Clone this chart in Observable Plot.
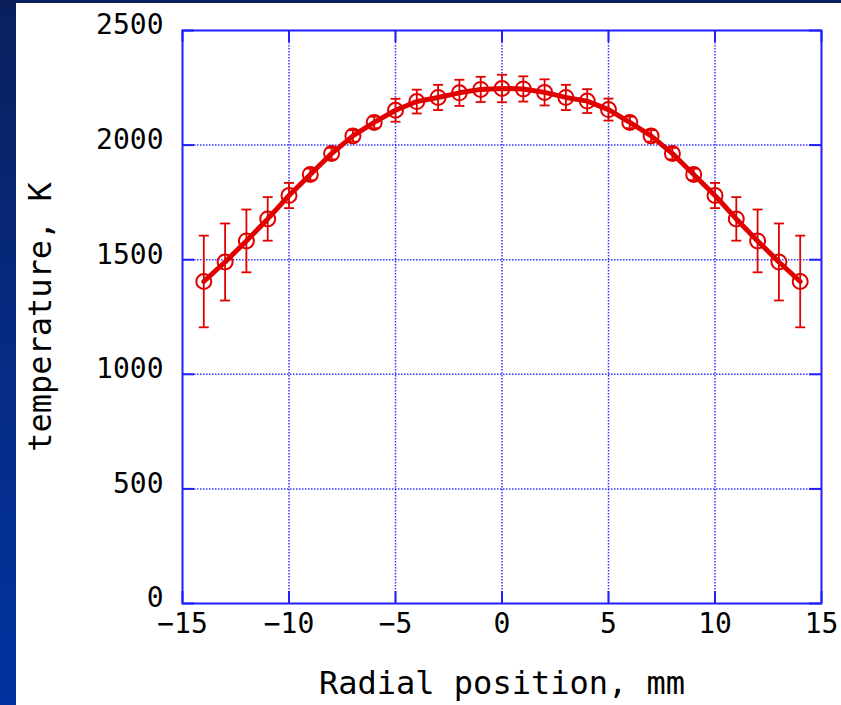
<!DOCTYPE html>
<html>
<head>
<meta charset="utf-8">
<script src="https://cdn.jsdelivr.net/npm/d3@7"></script>
<script src="https://cdn.jsdelivr.net/npm/@observablehq/plot@0.6"></script>
<style>
  html, body { margin: 0; padding: 0; background: #fff; }
  #page { position: relative; width: 841px; height: 705px; overflow: hidden; background: #fff; }
  #barTop { position: absolute; left: 0; top: 0; width: 841px; height: 3px; background: #0b1f5c; }
  #barLeft { position: absolute; left: 0; top: 0; width: 16px; height: 705px;
             background: linear-gradient(to bottom, #0b1f5c 0%, #062a80 45%, #0033a0 100%); }
  #chart { position: absolute; left: 0; top: 0; }
</style>
</head>
<body>
<div id="page">
  <div id="chart"></div>
  <div id="barLeft"></div>
  <div id="barTop"></div>
</div>
<script>
// Radial temperature profile (mm, K) with measurement uncertainty
const positions = [-14, -13, -12, -11, -10, -9, -8, -7, -6, -5, -4, -3, -2, -1, 0,
                   1, 2, 3, 4, 5, 6, 7, 8, 9, 10, 11, 12, 13, 14];
const temperatures = [1405, 1490, 1582, 1678, 1780, 1872, 1963, 2040, 2099, 2152, 2190, 2208, 2228, 2243, 2247,
                      2245, 2230, 2208, 2192, 2155, 2099, 2040, 1963, 1872, 1780, 1678, 1582, 1490, 1405];
const errors = [200, 168, 137, 95, 55, 25, 25, 25, 25, 50, 52, 55, 57, 55, 60,
                55, 57, 55, 52, 48, 25, 25, 25, 25, 55, 95, 137, 168, 200];
const xTicks = [-15, -10, -5, 0, 5, 10, 15];
const yTicks = [0, 500, 1000, 1500, 2000, 2500];
const xTitle = "Radial position, mm";
const yTitle = "temperature, K";

const rows = positions.map((x, i) => ({x, t: temperatures[i], e: errors[i]}));

const W = 841, H = 705;
const mL = 182, mR = 20, mT = 30, mB = 102;
const innerW = W - mL - mR, innerH = H - mT - mB;
const tickLen = 12;

const blue = "#1f1fff";
const red = "#e00000";
const font = "'DejaVu Sans Mono', monospace";

// horizontal cap symbol for the error bars
const capSymbol = {
  draw(context, size) {
    const w = Math.sqrt(size / Math.PI);
    context.moveTo(-w, 0);
    context.lineTo(w, 0);
  }
};

const chart = Plot.plot({
  width: W,
  height: H,
  marginLeft: mL,
  marginRight: mR,
  marginTop: mT,
  marginBottom: mB,
  style: {fontFamily: font, color: "#000", background: "transparent"},
  x: {domain: [-15, 15]},
  y: {domain: [0, 2500]},
  marks: [
    // dotted grid
    Plot.ruleX(xTicks.slice(1, -1), {stroke: blue, strokeWidth: 1.5, strokeDasharray: "1.5,1.5", strokeOpacity: 0.9}),
    Plot.ruleY(yTicks.slice(1, -1), {stroke: blue, strokeWidth: 1.5, strokeDasharray: "1.5,1.5", strokeOpacity: 0.9}),
    // inward tick marks on all four sides
    Plot.ruleY(yTicks, {y: d => d, stroke: blue, strokeWidth: 2, insetRight: innerW - tickLen}),
    Plot.ruleY(yTicks, {y: d => d, stroke: blue, strokeWidth: 2, insetLeft: innerW - tickLen}),
    Plot.ruleX(xTicks, {x: d => d, stroke: blue, strokeWidth: 2, insetTop: innerH - tickLen}),
    Plot.ruleX(xTicks, {x: d => d, stroke: blue, strokeWidth: 2, insetBottom: innerH - tickLen}),
    Plot.frame({stroke: blue, strokeWidth: 2}),
    // tick labels
    Plot.axisY(yTicks, {anchor: "left", tickSize: 0, tickPadding: 19, dy: -5, fontSize: 28, label: null, fill: "#000", tickFormat: d => String(d)}),
    Plot.axisX(xTicks, {anchor: "bottom", tickSize: 0, tickPadding: 10, fontSize: 28, label: null, fill: "#000"}),
    // axis titles
    Plot.text([xTitle], {frameAnchor: "bottom", dy: 90, lineAnchor: "bottom", fontSize: 32, fill: "#000"}),
    Plot.text([yTitle], {frameAnchor: "left", dx: -142, rotate: -90, textAnchor: "middle", lineAnchor: "middle", fontSize: 32, fill: "#000"}),
    // error bars
    Plot.ruleX(rows, {x: "x", y1: d => d.t - d.e, y2: d => d.t + d.e, stroke: red, strokeWidth: 1.8}),
    Plot.dot(rows, {x: "x", y: d => d.t + d.e, r: 5, symbol: capSymbol, stroke: red, strokeWidth: 1.8, fill: "none"}),
    Plot.dot(rows, {x: "x", y: d => d.t - d.e, r: 5, symbol: capSymbol, stroke: red, strokeWidth: 1.8, fill: "none"}),
    // profile line and markers
    Plot.line(rows, {x: "x", y: "t", stroke: red, strokeWidth: 5}),
    Plot.dot(rows, {x: "x", y: "t", r: 7.5, stroke: red, strokeWidth: 2, fill: "none"})
  ]
});

document.getElementById("chart").appendChild(chart);
</script>
</body>
</html>
